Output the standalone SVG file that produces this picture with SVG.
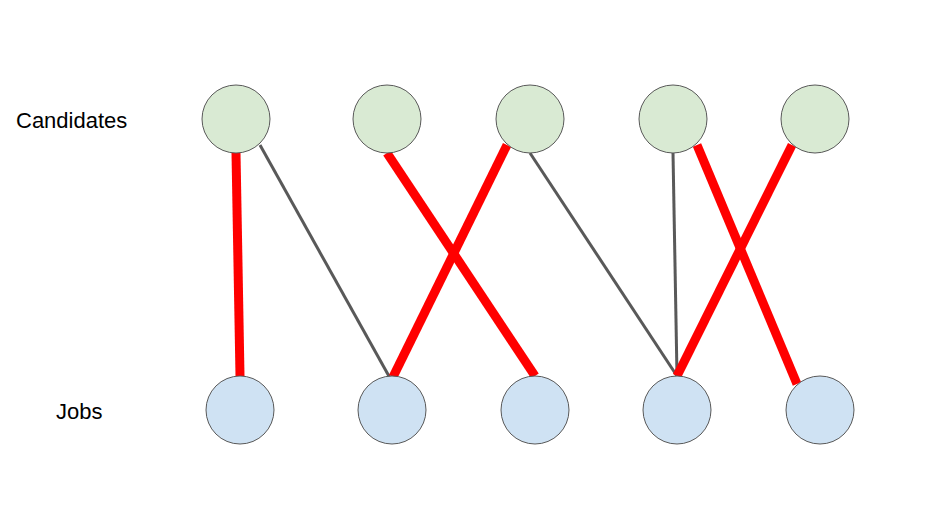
<svg xmlns="http://www.w3.org/2000/svg" width="929" height="515" viewBox="0 0 929 515">
<style>
.c{fill:#d9ead3;stroke:#595959;stroke-width:1}
.j{fill:#cfe2f3;stroke:#595959;stroke-width:1}
.r{stroke:#ff0000;stroke-width:9}
.g{stroke:#595959;stroke-width:3}
text{font-family:"Liberation Sans",Arial,sans-serif;font-size:22px;fill:#000}
</style>
<rect width="929" height="515" fill="#fff"/>
<g id="connectors">
<line class="r" x1="236" y1="153" x2="240" y2="376"/>
<line class="g" x1="260" y1="145" x2="390" y2="378"/>
<line class="r" x1="387" y1="153" x2="535" y2="376"/>
<line class="r" x1="507" y1="145" x2="393" y2="377"/>
<line class="g" x1="530" y1="153" x2="677" y2="376"/>
<line class="g" x1="673" y1="153" x2="677" y2="376"/>
<line class="r" x1="697" y1="145" x2="797" y2="384"/>
<line class="r" x1="792" y1="145" x2="677" y2="376"/>
</g>
<g id="c1"><circle class="c" cx="236" cy="119" r="34"/></g>
<g id="c2"><circle class="c" cx="387" cy="119" r="34"/></g>
<g id="c3"><circle class="c" cx="530" cy="119" r="34"/></g>
<g id="c4"><circle class="c" cx="673" cy="119" r="34"/></g>
<g id="c5"><circle class="c" cx="815" cy="119" r="34"/></g>
<g id="j1"><circle class="j" cx="240" cy="410" r="34"/></g>
<g id="j2"><circle class="j" cx="392" cy="410" r="34"/></g>
<g id="j3"><circle class="j" cx="535" cy="410" r="34"/></g>
<g id="j4"><circle class="j" cx="677" cy="410" r="34"/></g>
<g id="j5"><circle class="j" cx="820" cy="410" r="34"/></g>
<g id="labels">
<text x="16" y="128">Candidates</text>
<text x="56" y="419">Jobs</text>
</g>
</svg>
